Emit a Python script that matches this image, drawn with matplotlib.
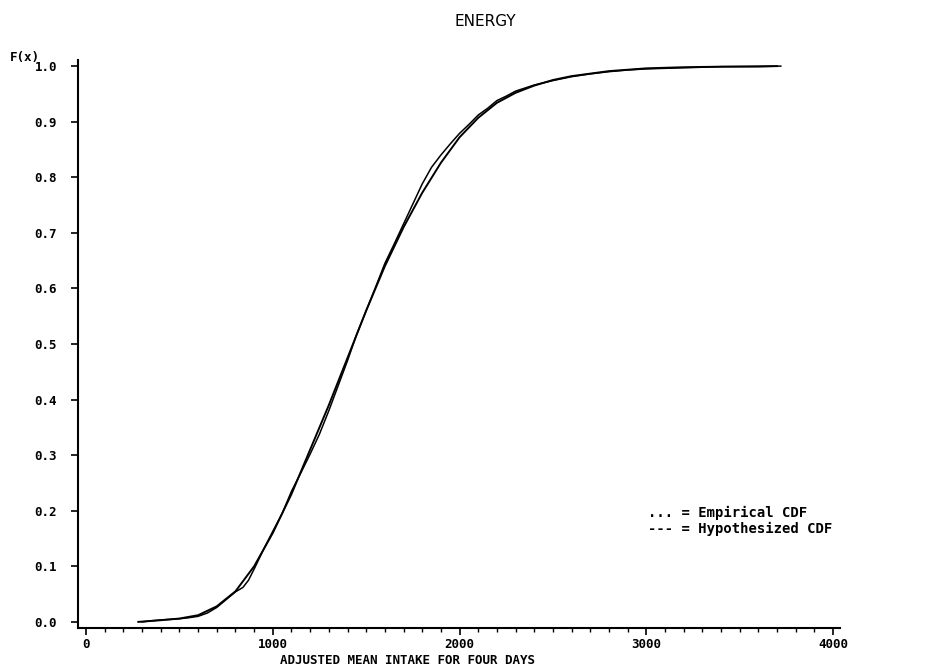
import numpy as np
import matplotlib.pyplot as plt
from matplotlib.ticker import MultipleLocator

# hypothesized CDF
hyp_x = [280, 400, 500, 600, 700, 800, 900, 1000, 1100, 1200, 1300, 1400, 1500,
         1600, 1700, 1800, 1900, 2000, 2100, 2200, 2300, 2400, 2500, 2600, 2800,
         3000, 3200, 3400, 3700]
hyp_F = [0.0, 0.003, 0.006, 0.012, 0.028, 0.055, 0.10, 0.16, 0.23, 0.31, 0.39,
         0.475, 0.56, 0.64, 0.71, 0.772, 0.826, 0.872, 0.907, 0.934, 0.952, 0.965,
         0.975, 0.982, 0.991, 0.996, 0.998, 0.999, 1.0]

# empirical CDF
emp_x = [300, 350, 420, 480, 540, 600, 650, 700, 750, 800, 840, 870, 900, 950,
         1000, 1050, 1100, 1150, 1200, 1250, 1300, 1350, 1400, 1450, 1500, 1550,
         1600, 1650, 1700, 1750, 1800, 1850, 1900, 1950, 2000, 2050, 2100, 2150,
         2200, 2250, 2300, 2400, 2500, 2600, 2700, 2800, 2900, 3000, 3200, 3400,
         3600, 3720]
emp_F = [0.0, 0.002, 0.004, 0.005, 0.007, 0.010, 0.016, 0.026, 0.040, 0.054, 0.062,
         0.075, 0.095, 0.13, 0.163, 0.195, 0.235, 0.268, 0.302, 0.338, 0.38, 0.425,
         0.47, 0.518, 0.56, 0.602, 0.645, 0.68, 0.716, 0.752, 0.788, 0.818, 0.84,
         0.86, 0.879, 0.895, 0.912, 0.924, 0.938, 0.946, 0.955, 0.966, 0.974, 0.981,
         0.986, 0.99, 0.993, 0.995, 0.997, 0.999, 0.999, 1.0]

yticks = np.arange(0, 1.01, 0.1)
xticks = [0, 1000, 2000, 3000, 4000]

fig = plt.figure(figsize=(9.26, 6.69), dpi=100)
ax = fig.add_axes([78/926, 1-628/669, (840-78)/926, (628-60)/669])

ax.plot(hyp_x, hyp_F, color='black', lw=1.4)
ax.plot(emp_x, emp_F, color='black', lw=1.1)

ax.set_xlim(-43, 4037)
ax.set_ylim(-0.011, 1.011)
ax.spines['top'].set_visible(False)
ax.spines['right'].set_visible(False)
ax.spines['left'].set_linewidth(1.5)
ax.spines['bottom'].set_linewidth(1.5)

ax.set_xticks(xticks)
ax.set_xticklabels([str(v) for v in xticks])
ax.xaxis.set_minor_locator(MultipleLocator(100))
ax.set_yticks(yticks)
ax.set_yticklabels(['%.1f' % v for v in yticks])
ax.tick_params(axis='both', which='major', length=5, width=1.2, direction='out')
ax.tick_params(axis='y', which='major', pad=10)
ax.tick_params(axis='x', which='major', pad=2)
ax.tick_params(axis='x', which='minor', length=3, width=1.0, direction='out')
for lab in ax.get_xticklabels() + ax.get_yticklabels():
    lab.set_fontfamily('DejaVu Sans Mono')
    lab.set_fontweight('bold')
    lab.set_fontsize(9)

fig.text(408/926, 1-661/669, 'ADJUSTED MEAN INTAKE FOR FOUR DAYS', fontfamily='DejaVu Sans Mono',
         fontweight='bold', fontsize=9, ha='center', va='center')
fig.text(10/926, 1-58/669, 'F(x)', fontfamily='DejaVu Sans Mono', fontweight='bold',
         fontsize=9, ha='left', va='center')
fig.text(485/926, 1-21/669, 'ENERGY', fontsize=11, ha='center', va='center')

fig.text(648/926, 1-513/669, '... = Empirical CDF', fontfamily='DejaVu Sans Mono',
         fontweight='bold', fontsize=10, ha='left', va='center')
fig.text(648/926, 1-529/669, '--- = Hypothesized CDF', fontfamily='DejaVu Sans Mono',
         fontweight='bold', fontsize=10, ha='left', va='center')

fig.savefig('out.png', dpi=100)
